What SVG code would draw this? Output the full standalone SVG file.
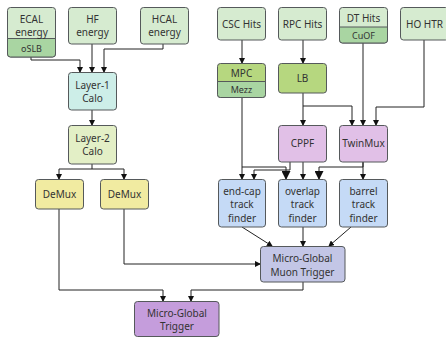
<svg xmlns="http://www.w3.org/2000/svg" width="446" height="337" viewBox="0 0 446 337">
<style>
.b{stroke:#55595b;stroke-width:1}
.g{fill:#d6ebd0}
.dg{fill:#a9d5a2}
.ol{fill:#b6d77f}
.l1{fill:#cdeee8}
.l2{fill:#e3efc6}
.dm{fill:#f1eba1}
.pk{fill:#e1c0e7}
.bl{fill:#c5daf6}
.mg{fill:#c3c6e6}
.pu{fill:#c59ddc}
text{font-family:"Noto Sans","Open Sans","DejaVu Sans",sans-serif;font-size:10px;fill:#333;text-anchor:middle}
.s{font-size:9px}
.c{fill:none;stroke:#222;stroke-width:1}
</style>
<defs>
<marker id="a" markerWidth="6" markerHeight="6" refX="5" refY="3" orient="auto" markerUnits="userSpaceOnUse"><path d="M0,0 L6,3 L0,6 z" fill="#111"/></marker>
<marker id="ab" markerWidth="9" markerHeight="9" refX="8" refY="4.5" orient="auto" markerUnits="userSpaceOnUse"><path d="M0,0 L9,4.5 L0,9 z" fill="#111"/></marker>
</defs>
<g id="connectors">
<path class="c" d="M31,57 V60 H80 V72" marker-end="url(#a)"/>
<path class="c" d="M92,44 V72" marker-end="url(#a)"/>
<path class="c" d="M163,44 V49 H104 V72" marker-end="url(#a)"/>
<path class="c" d="M92,110 V125" marker-end="url(#a)"/>
<path class="c" d="M92,164 V169 H59 V179" marker-end="url(#a)"/>
<path class="c" d="M92,169 H124 V179" marker-end="url(#a)"/>
<path class="c" d="M242,40 V63" marker-end="url(#a)"/>
<path class="c" d="M303,40 V63" marker-end="url(#a)"/>
<path class="c" d="M242,97 V179" marker-end="url(#a)"/>
<path class="c" d="M242,167 H286 V179" marker-end="url(#ab)"/>
<path class="c" d="M303,93 V125" marker-end="url(#a)"/>
<path class="c" d="M303,106 H352 V125" marker-end="url(#a)"/>
<path class="c" d="M363,43 V125" marker-end="url(#a)"/>
<path class="c" d="M424,40 V107 H376 V125" marker-end="url(#a)"/>
<path class="c" d="M290,162 V170 H254 V179" marker-end="url(#a)"/>
<path class="c" d="M303,162 V179" marker-end="url(#a)"/>
<path class="c" d="M363,162 V167 H319 V179" marker-end="url(#ab)"/>
<path class="c" d="M363,162 V179" marker-end="url(#a)"/>
<path class="c" d="M242,227 L272,246" marker-end="url(#a)"/>
<path class="c" d="M303,227 V246" marker-end="url(#a)"/>
<path class="c" d="M351,227 L329,246" marker-end="url(#a)"/>
<path class="c" d="M124,209 V264 H260" marker-end="url(#a)"/>
<path class="c" d="M59,209 V290 H163 V301" marker-end="url(#a)"/>
<path class="c" d="M303,282 V290 H191 V301" marker-end="url(#a)"/>
</g>
<g id="ecal">
<rect class="b g" x="7.5" y="7.5" width="48" height="49.5" rx="3"/>
<path class="b dg" d="M7.5,38.5 H55.5 V54 a3,3 0 0 1 -3,3 H10.5 a3,3 0 0 1 -3,-3 z"/>
<text x="31.5" y="22.5">ECAL</text><text x="31.5" y="35.5">energy</text>
<text class="s" x="31.5" y="51.5">oSLB</text>
</g>
<g id="hf"><rect class="b g" x="68.5" y="7.5" width="48" height="36.5" rx="3"/><text x="92.5" y="22.5">HF</text><text x="92.5" y="35.5">energy</text></g>
<g id="hcal"><rect class="b g" x="140.5" y="7.5" width="48" height="36.5" rx="3"/><text x="164.5" y="22.5">HCAL</text><text x="164.5" y="35.5">energy</text></g>
<g id="layer1"><rect class="b l1" x="68.5" y="72.5" width="48" height="37.5" rx="3"/><text x="92.5" y="88.5">Layer-1</text><text x="92.5" y="101.5">Calo</text></g>
<g id="layer2"><rect class="b l2" x="68.5" y="125.5" width="48" height="38.5" rx="3"/><text x="92.5" y="141.5">Layer-2</text><text x="92.5" y="154.5">Calo</text></g>
<g id="demux1"><rect class="b dm" x="35.5" y="179.5" width="48" height="29.5" rx="3"/><text x="59.5" y="197.5">DeMux</text></g>
<g id="demux2"><rect class="b dm" x="100.5" y="179.5" width="48" height="29.5" rx="3"/><text x="124.5" y="197.5">DeMux</text></g>
<g id="csc"><rect class="b g" x="217.5" y="7.5" width="48" height="32.5" rx="3"/><text x="241.5" y="27.5">CSC Hits</text></g>
<g id="rpc"><rect class="b g" x="278.5" y="7.5" width="48" height="32.5" rx="3"/><text x="302.5" y="27.5">RPC Hits</text></g>
<g id="dt">
<rect class="b g" x="339.5" y="7.5" width="48" height="35.5" rx="3"/>
<path class="b dg" d="M339.5,27 H387.5 V40 a3,3 0 0 1 -3,3 H342.5 a3,3 0 0 1 -3,-3 z"/>
<text x="363.5" y="21.5">DT Hits</text><text class="s" x="363.5" y="38.5">CuOF</text>
</g>
<g id="ho"><rect class="b g" x="400.5" y="7.5" width="48" height="32.5" rx="3"/><text x="424.5" y="27.5">HO HTR</text></g>
<g id="mpc">
<rect class="b ol" x="217.5" y="63.5" width="48" height="34" rx="3"/>
<path class="b dg" d="M217.5,81.5 H265.5 V94.5 a3,3 0 0 1 -3,3 H220.5 a3,3 0 0 1 -3,-3 z"/>
<text x="241.5" y="76.5">MPC</text><text class="s" x="241.5" y="92.5">Mezz</text>
</g>
<g id="lb"><rect class="b ol" x="278.5" y="63.5" width="48" height="29.5" rx="3"/><text x="302.5" y="81.5">LB</text></g>
<g id="cppf"><rect class="b pk" x="278.5" y="125.5" width="48" height="36.5" rx="3"/><text x="302.5" y="146.5">CPPF</text></g>
<g id="twinmux"><rect class="b pk" x="339.5" y="125.5" width="48" height="36.5" rx="3"/><text x="363.5" y="146.5">TwinMux</text></g>
<g id="emtf"><rect class="b bl" x="218.5" y="179.5" width="47" height="47.5" rx="3"/><text x="242" y="194.5">end-cap</text><text x="242" y="208">track</text><text x="242" y="221.5">finder</text></g>
<g id="omtf"><rect class="b bl" x="278.5" y="179.5" width="48" height="47.5" rx="3"/><text x="302.5" y="194.5">overlap</text><text x="302.5" y="208">track</text><text x="302.5" y="221.5">finder</text></g>
<g id="bmtf"><rect class="b bl" x="339.5" y="179.5" width="48" height="47.5" rx="3"/><text x="363.5" y="194.5">barrel</text><text x="363.5" y="208">track</text><text x="363.5" y="221.5">finder</text></g>
<g id="ugmt"><rect class="b mg" x="260.5" y="246.5" width="84.5" height="35.5" rx="3"/><text x="302.5" y="261.5">Micro-Global</text><text x="302.5" y="275.5">Muon Trigger</text></g>
<g id="ugt"><rect class="b pu" x="134.5" y="301.5" width="84.5" height="35" rx="3"/><text x="177" y="316.5">Micro-Global</text><text x="177" y="329.5">Trigger</text></g>
</svg>
